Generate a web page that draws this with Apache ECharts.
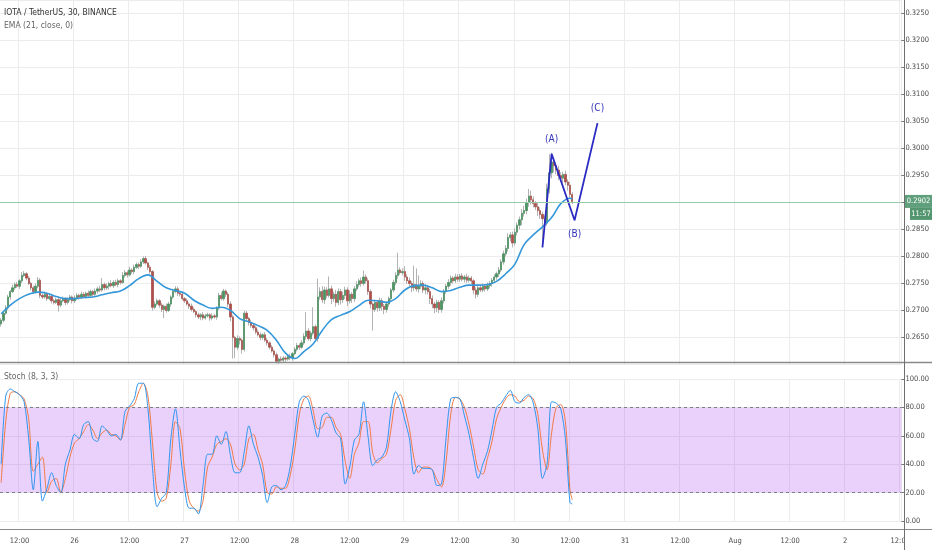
<!DOCTYPE html>
<html><head><meta charset="utf-8">
<script src="https://cdn.jsdelivr.net/npm/echarts@6/dist/echarts.min.js"></script>
<style>html,body{margin:0;padding:0;background:#fff}#c{width:932px;height:550px}</style>
</head><body><div id="c"></div>
<script>
// ---- data (prices in units of 0.0001 USDT, 30-minute candles from 25 Jul 08:00) ----
const FIRST_OPEN = 2675;
const closes = [
2682,2695,2705,2725,2735,2742,2748,2745,2755,2765,
2768,2760,2750,2742,2735,2745,2756,2728,2725,2730,
2722,2726,2718,2715,2720,2710,2718,2722,2715,2720,
2725,2718,2723,2728,2725,2730,2726,2732,2728,2735,
2730,2736,2740,2738,2748,2742,2745,2750,2746,2752,
2748,2755,2752,2765,2770,2766,2775,2772,2780,2785,
2782,2790,2796,2788,2780,2772,2706,2712,2718,2710,
2702,2708,2700,2712,2725,2735,2740,2732,2730,2722,
2718,2712,2708,2702,2698,2692,2688,2692,2686,2690,
2692,2686,2690,2688,2705,2728,2722,2736,2730,2712,
2688,2650,2632,2648,2645,2628,2695,2685,2678,2672,
2668,2660,2655,2650,2655,2645,2640,2632,2625,2618,
2606,2610,2608,2612,2610,2615,2612,2620,2628,2635,
2632,2640,2652,2662,2648,2658,2670,2648,2725,2735,
2720,2738,2728,2740,2722,2730,2715,2735,2720,2728,
2738,2718,2730,2722,2740,2748,2755,2750,2762,2755,
2735,2712,2702,2715,2705,2718,2708,2702,2712,2722,
2738,2752,2765,2775,2770,2772,2762,2755,2750,2742,
2748,2740,2745,2750,2738,2742,2735,2722,2712,2705,
2715,2702,2718,2735,2745,2752,2760,2755,2762,2758,
2764,2758,2762,2756,2760,2755,2738,2730,2742,2738,
2745,2740,2746,2750,2756,2762,2768,2775,2790,2805,
2815,2835,2840,2825,2845,2858,2868,2880,2885,2900,
2912,2905,2898,2892,2885,2878,2870,2862,2925,2955,
2975,2968,2960,2950,2945,2952,2938,2932,2915,2902];
const wickUp = [
4,3,5,4,3,6,4,5,3,6, 5,3,4,3,4,5,6,4,3,5, 3,4,5,3,4,3,5,4,3,4, 4,3,5,4,3,5,4,3,5,4,
3,5,4,6,12,4,5,3,6,4, 5,4,3,6,5,4,6,3,5,4, 4,5,4,5,3,4,3,5,4,3, 4,3,5,4,3,5,5,4,3,4,
3,4,3,5,4,3,4,3,5,4, 4,3,5,4,3,5,6,4,3,4, 5,4,3,6,4,3,5,4,3,5, 4,3,5,4,3,5,4,3,4,3,
4,3,5,4,3,4,5,3,4,5, 4,5,6,35,5,4,36,4,34,8, 10,6,5,23,6,5,8,6,5,7, 6,5,7,4,5,6,4,6,12,5,
5,4,3,5,4,6,5,4,5,4, 4,5,6,32,5,6,10,5,6,4, 35,30,20,6,5,7,4,5,6,4, 5,4,6,5,4,6,5,4,6,5,
4,5,4,6,5,4,3,5,4,6, 5,4,6,5,4,5,4,6,5,6, 6,8,5,6,7,5,6,8,9,7, 13,10,6,5,7,6,5,6,10,35,
17,6,5,8,6,5,7,5,6,4];
const wickDn = [
5,4,3,4,5,3,4,3,5,4, 3,4,3,5,4,3,4,5,4,3, 4,3,5,4,3,12,4,3,5,4, 3,5,4,3,5,4,3,4,3,5,
4,3,5,4,3,5,4,6,3,4, 3,5,4,3,4,5,3,4,5,3, 5,3,4,3,5,4,6,4,3,5, 5,16,4,3,5,4,3,5,4,3,
4,3,5,4,3,5,4,6,4,3, 3,5,4,3,5,4,3,4,5,6, 8,39,20,5,8,8,4,5,6,4, 5,4,3,5,4,3,5,4,3,5,
4,5,3,4,5,3,4,5,3,4, 5,3,4,6,4,5,4,3,6,5, 6,8,5,4,10,6,8,5,9,6, 7,10,5,8,6,4,5,6,4,5,
6,8,39,5,7,6,8,9,6,5, 5,4,5,6,4,5,7,6,5,8, 6,5,7,5,6,8,5,10,8,10, 8,7,6,5,4,5,6,5,4,5,
5,4,6,5,4,6,8,8,5,4, 4,5,4,5,6,4,5,6,4,5, 5,6,7,8,5,6,8,10,6,7, 8,9,7,6,10,8,48,6,5,8,
10,12,8,9,7,8,6,10,8,5];
// EMA(21) read every 4 candles (plus the last one)
const emaIdx = [0,4,8,12,16,20,24,28,32,36,40,44,48,52,56,60,64,68,72,76,80,84,88,92,96,100,104,108,112,116,
120,124,128,132,136,140,144,148,152,156,160,164,168,172,176,180,184,188,192,196,200,204,208,212,216,220,224,228,232,236,240,244,248,249];
const emaVal = [
2694,2710,2722,2730,2734,2732,2726,2722,2722,2724,
2725,2729,2733,2736,2746,2759,2766,2754,2742,2737,
2732,2719,2710,2704,2706,2700,2685,2679,2672,2663,
2645,2621,2611,2624,2638,2663,2683,2691,2698,2709,
2719,2718,2715,2722,2738,2746,2747,2742,2735,2737,
2743,2747,2747,2748,2754,2768,2786,2822,2840,2855,
2872,2898,2908,2907];
// Stochastic (8,3,3) read every 2 candles (plus the last one)
const stochIdx = [];
for (let i = 0; i <= 248; i += 2) stochIdx.push(i);
stochIdx.push(249);
const stochK = [
40,88,93,91,89,84,58,22,56,14, 23,34,25,20,40,50,61,58,68,70,
58,56,67,64,60,61,57,77,81,86, 97,97,79,37,10,16,20,58,79,50,
23,9,9,5,25,47,47,60,54,63, 46,34,34,49,67,54,45,32,13,24,
25,22,25,38,61,84,88,85,71,59, 74,76,71,62,58,26,38,57,61,84,
59,39,43,45,52,78,91,84,71,58, 33,39,37,37,36,25,26,59,86,87,
86,74,61,44,30,40,49,64,80,83, 88,92,84,83,87,89,83,65,30,40,
84,83,79,58,13,12];
const stochD = [
27,70,90,91,89,86,72,35,40,45, 20,28,30,20,30,45,55,58,63,68,
64,58,62,64,61,60,57,68,80,82, 91,97,88,55,20,14,16,40,70,65,
35,14,9,7,14,38,45,54,56,58, 54,40,36,40,58,61,50,40,20,19,
24,23,23,32,50,75,86,88,78,65, 66,73,73,66,61,42,30,47,55,70,
70,48,41,44,47,65,85,89,79,65, 44,34,38,38,36,29,24,42,75,87,
86,80,68,52,36,33,44,56,72,80, 86,89,88,84,85,88,86,75,50,36,
62,80,82,70,22,15];
// Elliott (A)-(B)-(C) drawing
const waveIdx = [236, 240, 250, 260];
const waveVal = [0.2817, 0.2990, 0.2867, 0.3047];
const waveLbl = ['', '(A)', '(B)', '(C)'];
const countdown = '11:57';

// ---- time categories & tick labels ----
const START = Date.UTC(2019, 6, 25, 8, 0);
const SLOTS = 393;
const MONTHS = ['Jan','Feb','Mar','Apr','May','Jun','Jul','Aug','Sep','Oct','Nov','Dec'];
const categories = [], tickLabels = [];
for (let k = 0; k < SLOTS; k++) {
  const d = new Date(START + k * 1800000);
  const h = d.getUTCHours(), m = d.getUTCMinutes(), day = d.getUTCDate();
  categories.push(d.toISOString().slice(5, 16));
  let t = '';
  if (m === 0 && h === 12) t = '12:00';
  else if (m === 0 && h === 0) t = day === 1 ? MONTHS[d.getUTCMonth()] : String(day);
  tickLabels.push(t);
}
const isTick = (i) => tickLabels[i] !== '';

// ---- build series data ----
const P = v => v / 10000;
const full = [], bodies = [];
for (let i = 0; i < closes.length; i++) {
  const o = i === 0 ? FIRST_OPEN : closes[i - 1];
  const c = closes[i];
  const hi = Math.max(o, c) + wickUp[i], lo = Math.min(o, c) - wickDn[i];
  full.push([P(o), P(c), P(lo), P(hi)]);
  bodies.push([P(o), P(c), P(Math.min(o, c)), P(Math.max(o, c))]);
}
const emaData = emaIdx.map((x, j) => [x, P(emaVal[j])]);
const kData = stochIdx.map((x, j) => [x, stochK[j]]);
const dData = stochIdx.map((x, j) => [x, stochD[j]]);
const waveData = waveIdx.map((x, j) => ({
  value: [x, waveVal[j]],
  label: {
    show: waveLbl[j] !== '', formatter: waveLbl[j],
    position: (j > 0 && waveVal[j] < waveVal[j - 1]) ? 'bottom' : 'top',
    distance: 9
  }
}));
const lastClose = P(closes[closes.length - 1]);

const FONT = "'Liberation Sans Narrow','DejaVu Sans Condensed','Roboto',sans-serif";
const UP = '#4a9462', DOWN = '#b0504a', WICK = '#b3b3b3';
const GRIDC = '#ececec', TXT = '#4a4a4a';

const chart = echarts.init(document.getElementById('c'));
const xCommon = {
  type: 'category', data: categories, boundaryGap: true,
  axisLine: { show: false }, axisTick: { show: false },
  splitLine: { show: true, interval: (i) => isTick(i), lineStyle: { color: GRIDC, width: 1 } }
};
chart.setOption({
  animation: false,
  backgroundColor: '#ffffff',
  title: [
    { text: 'IOTA / TetherUS, 30, BINANCE', left: 4, top: 8, padding: 0,
      textStyle: { fontSize: 8.5, color: '#333', fontWeight: 'normal', fontFamily: FONT } },
    { text: 'EMA (21, close, 0)', left: 4, top: 21, padding: 0,
      textStyle: { fontSize: 8.5, color: '#666', fontWeight: 'normal', fontFamily: FONT } },
    { text: 'Stoch (8, 3, 3)', left: 4, top: 372, padding: 0,
      textStyle: { fontSize: 8.5, color: '#666', fontWeight: 'normal', fontFamily: FONT } }
  ],
  grid: [
    { left: 0, right: 28, top: -1.87, bottom: 185.5 },
    { left: 0, right: 28, top: 379, bottom: 29 }
  ],
  xAxis: [
    Object.assign({}, xCommon, { gridIndex: 0, axisLabel: { show: false } }),
    Object.assign({}, xCommon, {
      gridIndex: 1, offset: 8,
      axisLabel: { show: true, interval: (i) => isTick(i), formatter: (v, i) => tickLabels[i],
        color: TXT, fontSize: 7.5, fontFamily: FONT, margin: 8 }
    })
  ],
  yAxis: [
    { type: 'value', gridIndex: 0, position: 'right', min: 0.26, max: 0.3275, interval: 0.005,
      axisLine: { show: false }, axisTick: { show: true, length: 3, lineStyle: { color: '#777' } },
      axisLabel: { color: TXT, fontSize: 7.5, fontFamily: FONT, margin: 4,
        showMinLabel: false, showMaxLabel: false, formatter: v => v.toFixed(4) },
      splitLine: { lineStyle: { color: GRIDC } } },
    { type: 'value', gridIndex: 1, position: 'right', min: 0, max: 100, interval: 20,
      axisLine: { show: false }, axisTick: { show: true, length: 3, lineStyle: { color: '#777' } },
      axisLabel: { color: TXT, fontSize: 7.5, fontFamily: FONT, margin: 4, formatter: v => v.toFixed(2) },
      splitLine: { lineStyle: { color: GRIDC } } }
  ],
  series: [
    { name: 'wicks', type: 'candlestick', xAxisIndex: 0, yAxisIndex: 0, data: full, barWidth: 1.8, silent: true,
      itemStyle: { color: 'rgba(0,0,0,0)', color0: 'rgba(0,0,0,0)', borderColor: WICK, borderColor0: WICK, borderWidth: 1 } },
    { name: 'IOTA/USDT', type: 'candlestick', xAxisIndex: 0, yAxisIndex: 0, data: bodies, barWidth: 1.8, silent: true,
      itemStyle: { color: UP, color0: DOWN, borderColor: UP, borderColor0: DOWN, borderWidth: 0.6 },
      markLine: { silent: true, symbol: 'none', label: { show: false },
        lineStyle: { color: '#97cbaa', type: 'solid', width: 1 }, data: [{ yAxis: lastClose }] } },
    { name: 'EMA', type: 'line', xAxisIndex: 0, yAxisIndex: 0, data: emaData, smooth: 0.4,
      symbol: 'none', lineStyle: { color: '#3497da', width: 1.6 }, z: 3 },
    { name: 'wave', type: 'line', xAxisIndex: 0, yAxisIndex: 0, data: waveData,
      symbol: 'circle', symbolSize: 0.5, itemStyle: { color: '#2b2bc4' },
      lineStyle: { color: '#2b2bc4', width: 1.8 },
      label: { color: '#3434b8', fontSize: 10, fontFamily: FONT }, z: 4 },
    { name: '%K', type: 'line', xAxisIndex: 1, yAxisIndex: 1, data: kData, smooth: 0.3,
      symbol: 'none', lineStyle: { color: '#2f96ee', width: 1 }, z: 4,
      markArea: { silent: true, itemStyle: { color: 'rgba(155,40,240,0.21)' },
        data: [[{ yAxis: 20 }, { yAxis: 80 }]] },
      markLine: { silent: true, symbol: 'none', label: { show: false },
        lineStyle: { color: '#7d7d8a', type: [3, 3], width: 1 }, data: [{ yAxis: 20 }, { yAxis: 80 }] } },
    { name: '%D', type: 'line', xAxisIndex: 1, yAxisIndex: 1, data: dData, smooth: 0.3,
      symbol: 'none', lineStyle: { color: '#f07a45', width: 1 }, z: 3 }
  ]
});

// price tag and frame lines
const yTag = chart.convertToPixel({ yAxisIndex: 0 }, lastClose);
chart.setOption({
  graphic: [
    { type: 'rect', shape: { x: 905, y: 530, width: 27, height: 20 }, style: { fill: '#fff' }, z: 50 },
    { type: 'line', shape: { x1: 0, y1: 362.5, x2: 932, y2: 362.5 }, style: { stroke: '#8a8a8a', lineWidth: 1.5 }, z: 60 },
    { type: 'line', shape: { x1: 0, y1: 529.5, x2: 932, y2: 529.5 }, style: { stroke: '#8a8a8a', lineWidth: 1 }, z: 60 },
    { type: 'line', shape: { x1: 904.5, y1: 0, x2: 904.5, y2: 550 }, style: { stroke: '#6f6f6f', lineWidth: 1 }, z: 60 },
    { type: 'rect', shape: { x: 905, y: yTag - 6.5, width: 27, height: 13 }, style: { fill: '#5f9f7b' }, z: 70 },
    { type: 'text', x: 918.5, y: yTag, style: { text: lastClose.toFixed(4), fill: '#fff', fontSize: 7.5,
        fontFamily: FONT, align: 'center', verticalAlign: 'middle' }, z: 71 },
    { type: 'rect', shape: { x: 910, y: yTag + 6.5, width: 22, height: 12 }, style: { fill: '#53966f' }, z: 70 },
    { type: 'text', x: 921, y: yTag + 12.5, style: { text: countdown, fill: '#fff', fontSize: 7.5,
        fontFamily: FONT, align: 'center', verticalAlign: 'middle' }, z: 71 }
  ]
});
</script></body></html>
